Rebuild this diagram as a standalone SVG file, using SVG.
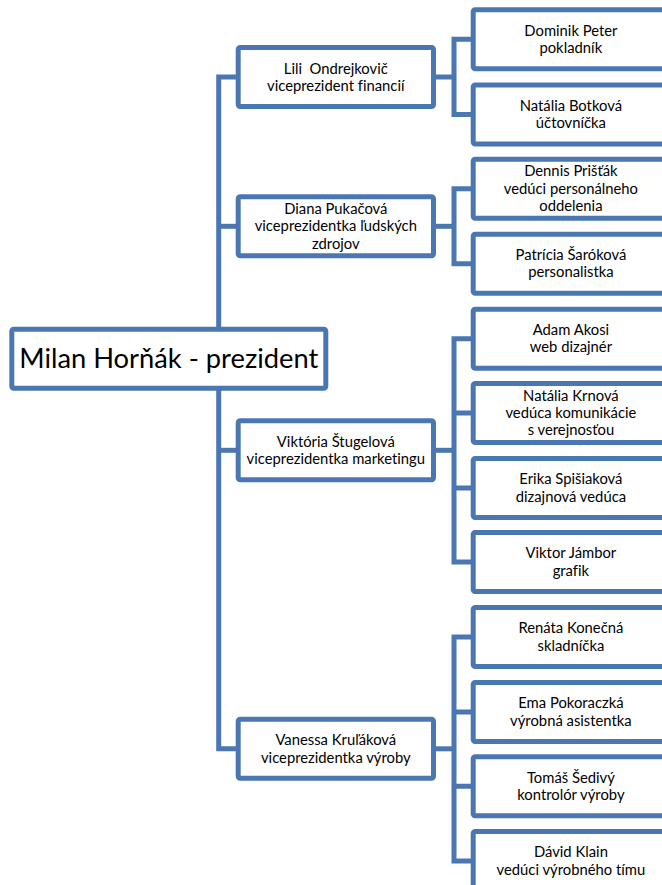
<svg xmlns="http://www.w3.org/2000/svg" width="662" height="885" viewBox="0 0 662 885">
<style>
.box{fill:#fff;stroke:#4A77B2;stroke-width:5}
.con{fill:none;stroke:#4A77B2;stroke-width:5;stroke-linejoin:miter}
.t{font-family:Lato,"Open Sans","Liberation Sans",sans-serif;font-size:14.8px;fill:#000;text-anchor:middle;white-space:pre;font-variant-ligatures:none}
.tp{font-family:Lato,"Open Sans","Liberation Sans",sans-serif;font-size:27.3px;fill:#000;text-anchor:middle;font-variant-ligatures:none}
</style>
<rect width="662" height="885" fill="#fff"/>
<g id="connectors">
<path class="con" d="M236,77 H218.7 V748.8 H236"/>
<path class="con" d="M218.7,226.3 H236"/>
<path class="con" d="M218.7,450.3 H236"/>
<path class="con" d="M436,77 H454"/>
<path class="con" d="M471,39.3 H454 V114.5 H471"/>
<path class="con" d="M436,226.3 H454"/>
<path class="con" d="M471,188.7 H454 V263.7 H471"/>
<path class="con" d="M436,450.3 H454"/>
<path class="con" d="M471,338.7 H454 V562 H471"/>
<path class="con" d="M454,413 H471 M454,488 H471"/>
<path class="con" d="M436,748.8 H454"/>
<path class="con" d="M471,637 H454 V861 H471"/>
<path class="con" d="M454,712 H471 M454,786.3 H471"/>
</g>
<g id="president">
<rect class="box" x="11.8" y="329.2" width="314" height="59" rx="2"/>
<text class="tp" x="168.8" y="368.3">Milan Horňák - prezident</text>
</g>
<g id="vp1">
<rect class="box" x="238.2" y="47.5" width="195.3" height="59" rx="2"/>
<text class="t" x="335.8" y="73.6">Lili  Ondrejkovič</text>
<text class="t" x="335.8" y="91">viceprezident financií</text>
</g>
<g id="vp2">
<rect class="box" x="238.2" y="196.8" width="195.3" height="59" rx="2"/>
<text class="t" x="335.8" y="214">Diana Pukačová</text>
<text class="t" x="335.8" y="231.3">viceprezidentka ľudských</text>
<text class="t" x="335.8" y="248.6">zdrojov</text>
</g>
<g id="vp3">
<rect class="box" x="238.2" y="420.8" width="195.3" height="59" rx="2"/>
<text class="t" x="335.8" y="446.6">Viktória Štugelová</text>
<text class="t" x="335.8" y="464">viceprezidentka marketingu</text>
</g>
<g id="vp4">
<rect class="box" x="238.2" y="719.2" width="195.3" height="59" rx="2"/>
<text class="t" x="335.8" y="745.1">Vanessa Kruľáková</text>
<text class="t" x="335.8" y="762.5">viceprezidentka výroby</text>
</g>
<g id="c1">
<rect class="box" x="473.2" y="9.8" width="195.5" height="59" rx="2"/>
<text class="t" x="570.9" y="35.6">Dominik Peter</text>
<text class="t" x="570.9" y="53">pokladník</text>
</g>
<g id="c2">
<rect class="box" x="473.2" y="85" width="195.5" height="59" rx="2"/>
<text class="t" x="570.9" y="110.8">Natália Botková</text>
<text class="t" x="570.9" y="128.2">účtovníčka</text>
</g>
<g id="c3">
<rect class="box" x="473.2" y="159.2" width="195.5" height="59" rx="2"/>
<text class="t" x="570.9" y="176.3">Dennis Prišťák</text>
<text class="t" x="570.9" y="193.6">vedúci personálneho</text>
<text class="t" x="570.9" y="210.9">oddelenia</text>
</g>
<g id="c4">
<rect class="box" x="473.2" y="234.2" width="195.5" height="59" rx="2"/>
<text class="t" x="570.9" y="260">Patrícia Šaróková</text>
<text class="t" x="570.9" y="277.4">personalistka</text>
</g>
<g id="c5">
<rect class="box" x="473.2" y="309.2" width="195.5" height="59" rx="2"/>
<text class="t" x="570.9" y="335">Adam Akosi</text>
<text class="t" x="570.9" y="352.4">web dizajnér</text>
</g>
<g id="c6">
<rect class="box" x="473.2" y="383.5" width="195.5" height="59" rx="2"/>
<text class="t" x="570.9" y="400.6">Natália Krnová</text>
<text class="t" x="570.9" y="417.9">vedúca komunikácie</text>
<text class="t" x="570.9" y="435.2">s verejnosťou</text>
</g>
<g id="c7">
<rect class="box" x="473.2" y="458.5" width="195.5" height="59" rx="2"/>
<text class="t" x="570.9" y="484.3">Erika Spišiaková</text>
<text class="t" x="570.9" y="501.7">dizajnová vedúca</text>
</g>
<g id="c8">
<rect class="box" x="473.2" y="532.5" width="195.5" height="59" rx="2"/>
<text class="t" x="570.9" y="558.3">Viktor Jámbor</text>
<text class="t" x="570.9" y="575.7">grafik</text>
</g>
<g id="c9">
<rect class="box" x="473.2" y="607.5" width="195.5" height="59" rx="2"/>
<text class="t" x="570.9" y="633.3">Renáta Konečná</text>
<text class="t" x="570.9" y="650.7">skladníčka</text>
</g>
<g id="c10">
<rect class="box" x="473.2" y="682.5" width="195.5" height="59" rx="2"/>
<text class="t" x="570.9" y="708.3">Ema Pokoraczká</text>
<text class="t" x="570.9" y="725.7">výrobná asistentka</text>
</g>
<g id="c11">
<rect class="box" x="473.2" y="756.8" width="195.5" height="59" rx="2"/>
<text class="t" x="570.9" y="782.6">Tomáš Šedivý</text>
<text class="t" x="570.9" y="800">kontrolór výroby</text>
</g>
<g id="c12">
<rect class="box" x="473.2" y="831.5" width="195.5" height="59" rx="2"/>
<text class="t" x="570.9" y="857.3">Dávid Klain</text>
<text class="t" x="570.9" y="874.7">vedúci výrobného tímu</text>
</g>
</svg>
